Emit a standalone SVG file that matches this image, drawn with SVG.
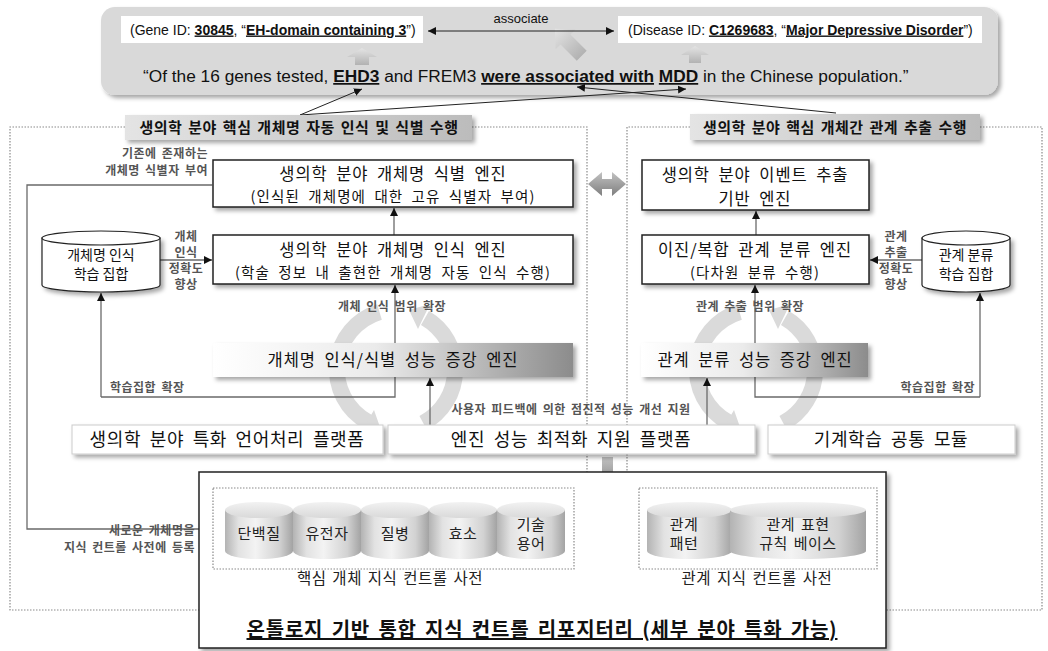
<svg xmlns="http://www.w3.org/2000/svg" width="1048" height="651" viewBox="0 0 1048 651">
<defs>
<style>
.kr{font-family:'Noto Sans CJK KR','Noto Sans',sans-serif;}
.en{font-family:'Liberation Sans',Arial,sans-serif;}
.box{fill:#fff;stroke:#222;stroke-width:1.5;}
.t1{font-size:16.5px;fill:#111;text-anchor:middle;letter-spacing:0.9px;word-spacing:4px;}
.t2{font-size:14.5px;fill:#111;text-anchor:middle;letter-spacing:1.1px;word-spacing:4px;}
.lbl{font-size:12px;font-weight:bold;fill:#555;letter-spacing:0.5px;word-spacing:2px;}
.mid{text-anchor:middle;}
.end{text-anchor:end;}
.hdr{font-size:15px;font-weight:bold;fill:#111;text-anchor:middle;letter-spacing:0.5px;word-spacing:2px;}
.con{fill:none;stroke:#6a6a6a;stroke-width:1.3;}
.dot{fill:none;stroke:#8a8a8a;stroke-width:1.2;stroke-dasharray:1.5 1.5;}
.plat{font-size:18px;fill:#111;text-anchor:middle;letter-spacing:0.6px;word-spacing:4px;}
.cyl{font-size:15px;fill:#222;text-anchor:middle;letter-spacing:0.5px;word-spacing:2px;}
.dict{font-size:15.5px;fill:#222;text-anchor:middle;letter-spacing:0.5px;word-spacing:2px;}
.ring{fill:none;stroke:#dadada;stroke-width:16;}
.ringh{fill:#dadada;}
.hl{fill:none;stroke:#222;stroke-width:1;}
.b{font-weight:bold;text-decoration:underline;}
</style>
<linearGradient id="hg" x1="0" y1="0" x2="1" y2="0"><stop offset="0" stop-color="#e4e4e4"/><stop offset="1" stop-color="#bcbcbc"/></linearGradient>
<linearGradient id="eg" x1="0" y1="0" x2="1" y2="0"><stop offset="0" stop-color="#ffffff"/><stop offset="0.45" stop-color="#ebebeb"/><stop offset="1" stop-color="#8c8c8c"/></linearGradient>
<linearGradient id="cg" x1="0" y1="0" x2="1" y2="0"><stop offset="0" stop-color="#b3b3b3"/><stop offset="0.2" stop-color="#e2e2e2"/><stop offset="0.45" stop-color="#f3f3f3"/><stop offset="0.8" stop-color="#d2d2d2"/><stop offset="1" stop-color="#a3a3a3"/></linearGradient>
<linearGradient id="ct" x1="0" y1="0" x2="0" y2="1"><stop offset="0" stop-color="#f2f2f2"/><stop offset="1" stop-color="#d9d9d9"/></linearGradient>
<linearGradient id="ga" x1="0" y1="0" x2="0" y2="1"><stop offset="0" stop-color="#c2c2c2"/><stop offset="1" stop-color="#7e7e7e"/></linearGradient>
<linearGradient id="gu" x1="0" y1="0" x2="0" y2="1"><stop offset="0" stop-color="#e4e4e4"/><stop offset="1" stop-color="#b2b2b2"/></linearGradient>
<filter id="sh" x="-10%" y="-20%" width="125%" height="160%"><feDropShadow dx="3" dy="3" stdDeviation="2" flood-color="#000" flood-opacity="0.35"/></filter>
<marker id="ab" viewBox="0 0 10 10" refX="10" refY="5" markerWidth="8" markerHeight="8" markerUnits="userSpaceOnUse" orient="auto"><path d="M0,0 L10,5 L0,10 z" fill="#111"/></marker>
<marker id="ag" viewBox="0 0 10 10" refX="10" refY="5" markerWidth="9" markerHeight="9" markerUnits="userSpaceOnUse" orient="auto"><path d="M0,0 L10,5 L0,10 z" fill="#8a8a8a"/></marker>
</defs>
<rect width="1048" height="651" fill="#fff"/>

<g id="banner">
<rect x="101" y="7" width="897" height="88" rx="14" fill="#d9d9d9" filter="url(#sh)"/>
<rect x="121" y="16" width="302" height="27" fill="#fff"/>
<text class="en" x="130" y="34.5" font-size="14" fill="#111">(Gene ID: <tspan class="b">30845</tspan>, “<tspan class="b">EH-domain containing 3</tspan>”)</text>
<rect x="618" y="16" width="364" height="27" fill="#fff"/>
<text class="en" x="628" y="34.5" font-size="14" fill="#111">(Disease ID: <tspan class="b">C1269683</tspan>, “<tspan class="b">Major Depressive Disorder</tspan>”)</text>
<text class="en mid" x="521" y="23" font-size="13" fill="#111">associate</text>
<text class="en" x="143" y="82" font-size="17.3" fill="#111">“Of the 16 genes tested, <tspan class="b">EHD3</tspan> and FREM3 <tspan class="b">were associated with</tspan> <tspan class="b">MDD</tspan> in the Chinese population.”</text>
<polygon points="362,48 377,57 369,57 369,65 355,65 355,57 347,57" fill="url(#gu)"/>
<polygon points="695,46 709,55 701,55 701,63 689,63 689,55 681,55" fill="url(#gu)"/>
<polygon points="0,-20 14,-5 7,-5 7,18 -7,18 -7,-5 -14,-5" fill="url(#gu)" transform="translate(569,43) rotate(-45)"/>
</g>

<g id="containers">
<path class="dot" d="M125,127 H10 V610 H199"/>
<path class="dot" d="M472,127 H587 V472"/>
<path class="dot" d="M690,127 H627 V472"/>
<path class="dot" d="M980,127 H1042 V610 H886"/>
</g>

<g id="rings">
<path class="ring" d="M379.5,312 A60,60 0 0,0 368,422"/>
<polygon class="ringh" points="381,430 359,436 374,410"/>
<path class="ring" d="M423.2,423 A60,60 0 0,0 425,318"/>
<polygon class="ringh" points="409,310 430,304 418,329"/>
<path class="ring" d="M739.5,312 A60,60 0 0,0 728,422"/>
<polygon class="ringh" points="741,430 719,436 734,410"/>
<path class="ring" d="M783.2,423 A60,60 0 0,0 785,318"/>
<polygon class="ringh" points="769,310 790,304 778,329"/>
</g>

<g id="connectors">
<path class="hl" d="M300,115 L362,89" marker-end="url(#ab)"/>
<path class="hl" d="M300,115 L686,89" marker-end="url(#ab)"/>
<path class="hl" d="M836,113 L577,87" marker-end="url(#ab)"/>
<path class="hl" d="M520,31 L428,31" marker-end="url(#ab)"/>
<path class="hl" d="M520,31 L614,31" marker-end="url(#ab)"/>
<path class="con" stroke="#8a8a8a" d="M212,185 H27 V529 H212" marker-start="url(#ag)" marker-end="url(#ag)"/>
<path class="con" d="M160,260 H212" marker-end="url(#ab)"/>
<path class="con" d="M394,235 V208" marker-end="url(#ab)"/>
<path class="con" d="M101,397 H395 V285" marker-end="url(#ab)"/>
<path class="con" d="M101,397 V293" marker-end="url(#ab)"/>
<path class="con" d="M430,425 V378" marker-end="url(#ab)"/>
<path class="con" d="M707,425 V378" marker-end="url(#ab)"/>
<path class="con" d="M980,397 H755 V285" marker-end="url(#ab)"/>
<path class="con" d="M980,397 V293" marker-end="url(#ab)"/>
<path class="con" d="M756,235 V211" marker-end="url(#ab)"/>
<path class="con" d="M922,260 H870" marker-end="url(#ab)"/>
<polygon points="588,184 602,172 602,179 612,179 612,172 626,184 612,196 612,189 602,189 602,196" fill="url(#ga)"/>
<polygon points="602,457 613,457 613,476 619,476 607.5,490 596,476 602,476" fill="url(#ga)"/>
</g>

<g id="hdr-left">
<rect x="125" y="115" width="347" height="25" fill="url(#hg)" filter="url(#sh)"/>
<text class="kr hdr" x="299" y="133">생의학 분야 핵심 개체명 자동 인식 및 식별 수행</text>
</g>
<g id="hdr-right">
<rect x="690" y="114" width="290" height="26" fill="url(#hg)" filter="url(#sh)"/>
<text class="kr hdr" x="835" y="133">생의학 분야 핵심 개체간 관계 추출 수행</text>
</g>

<g id="lbl-left">
<text class="kr lbl end" x="208" y="158">기존에 존재하는</text>
<text class="kr lbl end" x="208" y="175">개체명 식별자 부여</text>
<text class="kr lbl mid" x="186" y="241">개체</text>
<text class="kr lbl mid" x="186" y="257">인식</text>
<text class="kr lbl mid" x="186" y="273">정확도</text>
<text class="kr lbl mid" x="186" y="289">향상</text>
<text class="kr lbl mid" x="392" y="311">개체 인식 범위 확장</text>
<text class="kr lbl" x="110" y="392">학습집합 확장</text>
<text class="kr lbl end" x="195" y="535">새로운 개체명을</text>
<text class="kr lbl end" x="195" y="552">지식 컨트롤 사전에 등록</text>
<text class="kr lbl mid" x="571" y="414">사용자 피드백에 의한 점진적 성능 개선 지원</text>
</g>
<g id="lbl-right">
<text class="kr lbl mid" x="896" y="241">관계</text>
<text class="kr lbl mid" x="896" y="257">추출</text>
<text class="kr lbl mid" x="896" y="273">정확도</text>
<text class="kr lbl mid" x="896" y="289">향상</text>
<text class="kr lbl mid" x="750" y="311">관계 추출 범위 확장</text>
<text class="kr lbl end" x="975" y="392">학습집합 확장</text>
</g>

<g id="eng-id">
<rect class="box" x="213" y="160" width="360" height="47" filter="url(#sh)"/>
<text class="kr t1" x="393" y="180">생의학 분야 개체명 식별 엔진</text>
<text class="kr t2" x="393" y="202">(인식된 개체명에 대한 고유 식별자 부여)</text>
</g>
<g id="eng-ner">
<rect class="box" x="213" y="235" width="360" height="49" filter="url(#sh)"/>
<text class="kr t1" x="393" y="256">생의학 분야 개체명 인식 엔진</text>
<text class="kr t2" x="393" y="278">(학술 정보 내 출현한 개체명 자동 인식 수행)</text>
</g>
<g id="set-ner">
<path d="M42,238 V285 A59,7 0 0,0 160,285 V238 Z" fill="#fff" stroke="#222" stroke-width="1.2" filter="url(#sh)"/>
<ellipse cx="101" cy="238" rx="59" ry="7" fill="#fff" stroke="#222" stroke-width="1.2"/>
<text class="kr mid" x="101" y="260" font-size="14" fill="#111">개체명 인식</text>
<text class="kr mid" x="101" y="279" font-size="14" fill="#111">학습 집합</text>
</g>
<g id="enh-left">
<rect x="213" y="343" width="360" height="34" fill="url(#eg)" filter="url(#sh)"/>
<text class="kr t1" x="393" y="366">개체명 인식/식별 성능 증강 엔진</text>
</g>

<g id="eng-event">
<rect class="box" x="642" y="160" width="227" height="50" filter="url(#sh)"/>
<text class="kr t1" x="755" y="181">생의학 분야 이벤트 추출</text>
<text class="kr t1" x="755" y="205">기반 엔진</text>
</g>
<g id="eng-rel">
<rect class="box" x="642" y="235" width="227" height="49" filter="url(#sh)"/>
<text class="kr t1" x="755" y="256">이진/복합 관계 분류 엔진</text>
<text class="kr t2" x="755" y="278">(다차원 분류 수행)</text>
</g>
<g id="set-rel">
<path d="M922,238 V285 A44,7 0 0,0 1010,285 V238 Z" fill="#fff" stroke="#222" stroke-width="1.2" filter="url(#sh)"/>
<ellipse cx="966" cy="238" rx="44" ry="7" fill="#fff" stroke="#222" stroke-width="1.2"/>
<text class="kr mid" x="966" y="260" font-size="14" fill="#111">관계 분류</text>
<text class="kr mid" x="966" y="279" font-size="14" fill="#111">학습 집합</text>
</g>
<g id="enh-right">
<rect x="641" y="343" width="227" height="34" fill="url(#eg)" filter="url(#sh)"/>
<text class="kr t1" x="755" y="366">관계 분류 성능 증강 엔진</text>
</g>

<g id="plat-nlp">
<rect x="72" y="425" width="311" height="29" fill="#fff" stroke="#ccc" stroke-width="1" filter="url(#sh)"/>
<text class="kr plat" x="227" y="446">생의학 분야 특화 언어처리 플랫폼</text>
</g>
<g id="plat-opt">
<rect x="388" y="425" width="367" height="29" fill="#fff" stroke="#ccc" stroke-width="1" filter="url(#sh)"/>
<text class="kr plat" x="571" y="446">엔진 성능 최적화 지원 플랫폼</text>
</g>
<g id="plat-ml">
<rect x="768" y="425" width="247" height="29" fill="#fff" stroke="#ccc" stroke-width="1" filter="url(#sh)"/>
<text class="kr plat" x="891" y="446">기계학습 공통 모듈</text>
</g>

<g id="repository">
<rect x="199" y="472" width="687" height="176" fill="#fff" stroke="#222" stroke-width="1.5" filter="url(#sh)"/>
<rect class="dot" x="213" y="488" width="361" height="81"/>
<rect class="dot" x="639" y="488" width="238" height="81"/>
<text class="kr dict" x="390" y="584">핵심 개체 지식 컨트롤 사전</text>
<text class="kr dict" x="757" y="584">관계 지식 컨트롤 사전</text>
<text class="kr mid" x="542" y="637" font-size="20" font-weight="bold" text-decoration="underline" fill="#111" letter-spacing="0.8" word-spacing="3">온톨로지 기반 통합 지식 컨트롤 리포지터리 (세부 분야 특화 가능)</text>
</g>
<g id="cyl-protein">
<path d="M225,510 V551 A34,8 0 0,0 293,551 V510 Z" fill="url(#cg)"/>
<ellipse cx="259" cy="510" rx="34" ry="8" fill="url(#ct)"/>
<text class="kr cyl" x="259" y="539">단백질</text>
</g>
<g id="cyl-gene">
<path d="M293,510 V551 A34,8 0 0,0 361,551 V510 Z" fill="url(#cg)"/>
<ellipse cx="327" cy="510" rx="34" ry="8" fill="url(#ct)"/>
<text class="kr cyl" x="327" y="539">유전자</text>
</g>
<g id="cyl-disease">
<path d="M361,510 V551 A34,8 0 0,0 429,551 V510 Z" fill="url(#cg)"/>
<ellipse cx="395" cy="510" rx="34" ry="8" fill="url(#ct)"/>
<text class="kr cyl" x="395" y="539">질병</text>
</g>
<g id="cyl-enzyme">
<path d="M429,510 V551 A34,8 0 0,0 497,551 V510 Z" fill="url(#cg)"/>
<ellipse cx="463" cy="510" rx="34" ry="8" fill="url(#ct)"/>
<text class="kr cyl" x="463" y="539">효소</text>
</g>
<g id="cyl-term">
<path d="M497,510 V551 A34,8 0 0,0 565,551 V510 Z" fill="url(#cg)"/>
<ellipse cx="531" cy="510" rx="34" ry="8" fill="url(#ct)"/>
<text class="kr cyl" x="531" y="530">기술</text>
<text class="kr cyl" x="531" y="549">용어</text>
</g>
<g id="cyl-pattern">
<path d="M647,510 V551 A42.5,8 0 0,0 732,551 V510 Z" fill="url(#cg)"/>
<ellipse cx="689.5" cy="510" rx="42.5" ry="8" fill="url(#ct)"/>
<text class="kr cyl" x="684" y="530">관계</text>
<text class="kr cyl" x="684" y="549">패턴</text>
</g>
<g id="cyl-rule">
<path d="M730,510 V551 A68,8 0 0,0 866,551 V510 Z" fill="url(#cg)"/>
<ellipse cx="798" cy="510" rx="68" ry="8" fill="url(#ct)"/>
<text class="kr cyl" x="798" y="530">관계 표현</text>
<text class="kr cyl" x="798" y="549">규칙 베이스</text>
</g>
</svg>
